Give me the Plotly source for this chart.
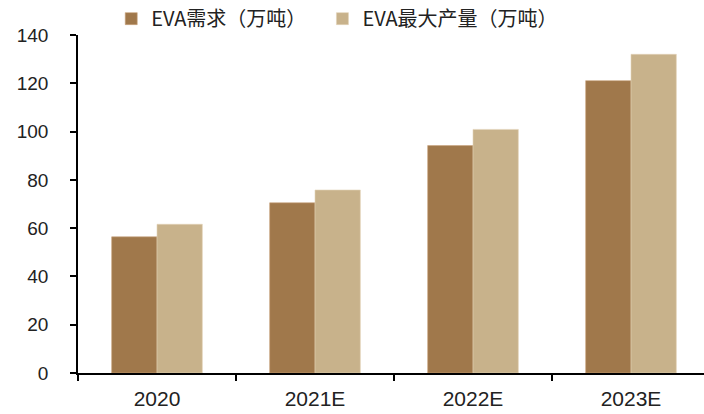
import plotly.graph_objects as go

categories = ["2020", "2021E", "2022E", "2023E"]
demand = [56.4, 70.5, 94.2, 121.1]
capacity = [61.6, 75.8, 100.9, 132.0]
y_ticks = [0, 20, 40, 60, 80, 100, 120, 140]

fig = go.Figure()
fig.add_trace(go.Bar(x=categories, y=demand, name="EVA需求（万吨）", legend="legend",
                     marker=dict(color="#A0784B", line=dict(color="#C9A57E", width=0.6))))
fig.add_trace(go.Bar(x=categories, y=capacity, name="EVA最大产量（万吨）", legend="legend2",
                     marker=dict(color="#C8B28B", line=dict(color="#E2D4B8", width=0.6))))

legend_font = dict(family="Noto Sans CJK SC", size=20, color="#222222")
fig.update_layout(
    width=704, height=414,
    margin=dict(l=78, r=0, t=35, b=41, autoexpand=False),
    paper_bgcolor="white", plot_bgcolor="white",
    barmode="group", bargap=0.426, bargroupgap=0,
    font=dict(family="Liberation Sans, Arial, sans-serif", color="#222222"),
    legend=dict(orientation="h", xref="container", x=0.158, xanchor="left",
                yref="container", y=0.955, yanchor="middle",
                font=legend_font, itemwidth=30),
    legend2=dict(orientation="h", xref="container", x=0.458, xanchor="left",
                 yref="container", y=0.955, yanchor="middle",
                 font=legend_font, itemwidth=30),
    showlegend=True,
)
fig.update_xaxes(
    range=[-0.5, 3.462], showline=True, linecolor="black", linewidth=1.5,
    ticks="outside", tickson="boundaries", ticklen=6, tickcolor="black", tickwidth=1.5,
    tickfont=dict(size=21), showgrid=False, zeroline=False, ticklabelstandoff=6,
)
fig.update_yaxes(
    range=[0, 140], tickvals=y_ticks, showline=True, linecolor="black", linewidth=1.5,
    ticks="outside", ticklen=6, tickcolor="black", tickwidth=1.5,
    tickfont=dict(size=19), showgrid=False, zeroline=False, ticklabelstandoff=18,
)

fig.write_html("out.html")
